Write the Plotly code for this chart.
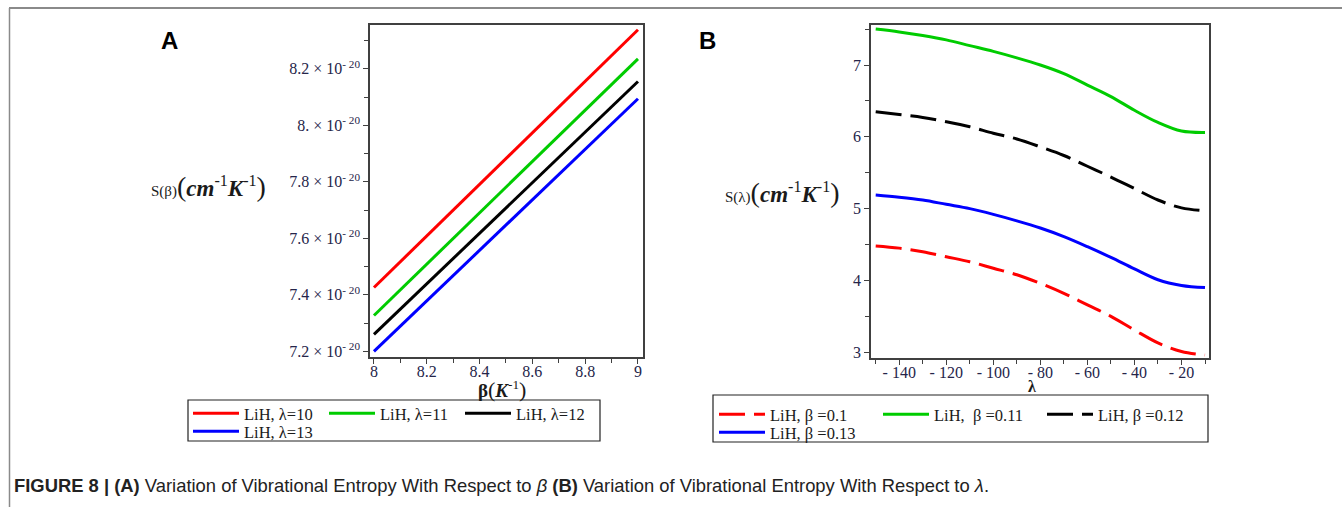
import plotly.graph_objects as go

# ---------------- Panel A data (S vs beta) ----------------
beta_x = [8.0, 9.0]
S_lam10 = [7.426e-20, 8.338e-20]
S_lam11 = [7.327e-20, 8.235e-20]
S_lam12 = [7.260e-20, 8.155e-20]
S_lam13 = [7.200e-20, 8.094e-20]
A_names = ["LiH, λ=10", "LiH, λ=11", "LiH, λ=12", "LiH, λ=13"]
A_colors = ["#ff0000", "#00cc00", "#000000", "#0000ff"]
A_ytickvals = [7.2e-20, 7.4e-20, 7.6e-20, 7.8e-20, 8.0e-20, 8.2e-20]
A_yticktext = ["7.2 × 10<sup>- 20</sup>", "7.4 × 10<sup>- 20</sup>", "7.6 × 10<sup>- 20</sup>",
               "7.8 × 10<sup>- 20</sup>", "8. × 10<sup>- 20</sup>", "8.2 × 10<sup>- 20</sup>"]
A_xtickvals = [8, 8.2, 8.4, 8.6, 8.8, 9]
A_xticktext = ["8", "8.2", "8.4", "8.6", "8.8", "9"]

# ---------------- Panel B data (S vs lambda) ----------------
lam_x = [-150, -140, -130, -120, -110, -100, -90, -80, -70, -60, -50, -40, -30, -20, -10]
S_b010 = [4.48, 4.45, 4.40, 4.33, 4.26, 4.17, 4.08, 3.96, 3.82, 3.66, 3.50, 3.31, 3.13, 3.01, 2.96]
S_b011 = [7.50, 7.46, 7.41, 7.35, 7.27, 7.19, 7.10, 7.00, 6.88, 6.72, 6.56, 6.37, 6.20, 6.08, 6.06]
S_b012 = [6.35, 6.31, 6.27, 6.21, 6.14, 6.05, 5.97, 5.86, 5.74, 5.59, 5.44, 5.28, 5.12, 5.01, 4.97]
S_b013 = [5.19, 5.16, 5.12, 5.06, 5.00, 4.92, 4.83, 4.73, 4.61, 4.47, 4.32, 4.16, 4.01, 3.93, 3.90]
B_names = ["LiH, β =0.1", "LiH,  β =0.11", "LiH, β =0.12", "LiH, β =0.13"]
B_colors = ["#ff0000", "#00cc00", "#000000", "#0000ff"]
B_dash = ["26px,9px", "solid", "26px,9px", "solid"]
B_xtickvals = [-140, -120, -100, -80, -60, -40, -20]
B_xticktext = ["- 140", "- 120", "- 100", "- 80", "- 60", "- 40", "- 20"]
B_ytickvals = [3, 4, 5, 6, 7]

W, H = 1342, 507
serif = "Liberation Serif, Times New Roman, serif"
tickcol = "#25254a"

fig = go.Figure()

A_leg = ["legend", "legend", "legend", "legend3"]
for ys, name, col, lg in zip([S_lam10, S_lam11, S_lam12, S_lam13], A_names, A_colors, A_leg):
    fig.add_trace(go.Scatter(x=beta_x, y=ys, mode="lines", name=name,
                             line=dict(color=col, width=3), xaxis="x", yaxis="y",
                             legend=lg))

B_leg = ["legend2", "legend2", "legend2", "legend4"]
for ys, name, col, d, lg in zip([S_b010, S_b011, S_b012, S_b013], B_names, B_colors, B_dash, B_leg):
    fig.add_trace(go.Scatter(x=lam_x, y=ys, mode="lines", name=name,
                             line=dict(color=col, width=3, dash=d, shape="spline", smoothing=1.0),
                             xaxis="x2", yaxis="y2", legend=lg))

def px_x(p):
    return p / W

def px_y(p):
    return 1 - p / H

axis_common = dict(showline=True, linecolor="#404040", linewidth=1.5, mirror=True,
                   showgrid=False, zeroline=False, ticks="outside", ticklen=5,
                   tickcolor="#404040", tickwidth=1,
                   tickfont=dict(family=serif, size=16, color=tickcol))

def leg(x, y, ew):
    return dict(x=px_x(x), y=px_y(y), xanchor="left", yanchor="top",
                orientation="h", borderwidth=0, bgcolor="rgba(0,0,0,0)",
                font=dict(family=serif, size=16.5, color="#1a1a1a"),
                entrywidth=ew, entrywidthmode="pixels", tracegroupgap=0,
                itemwidth=46)

fig.update_layout(
    width=W, height=H, margin=dict(l=0, r=0, t=0, b=0, autoexpand=False),
    paper_bgcolor="white", plot_bgcolor="white",
    xaxis=dict(domain=[px_x(370), px_x(643)], range=[7.985, 9.019], anchor="y",
               tickmode="array", tickvals=A_xtickvals, ticktext=A_xticktext,
               ticklabelstandoff=-6,
               minor=dict(ticks="outside", ticklen=4, tick0=8.1, dtick=0.2, tickcolor="#404040"),
               **axis_common),
    yaxis=dict(domain=[px_y(357), px_y(25)], range=[7.18e-20, 8.355e-20], anchor="x",
               tickmode="array", tickvals=A_ytickvals, ticktext=A_yticktext,
               minor=dict(ticks="outside", ticklen=4, tick0=7.3e-20, dtick=0.2e-20, tickcolor="#404040"),
               **axis_common),
    xaxis2=dict(domain=[px_x(871), px_x(1209)], range=[-152, -8.3], anchor="y2",
                tickmode="array", tickvals=B_xtickvals, ticktext=B_xticktext,
                ticklabelstandoff=-6,
                minor=dict(ticks="outside", ticklen=4, tick0=-150, dtick=20, tickcolor="#404040"),
                **axis_common),
    yaxis2=dict(domain=[px_y(358), px_y(25)], range=[2.92, 7.557], anchor="x2",
                tickmode="array", tickvals=B_ytickvals,
                minor=dict(ticks="outside", ticklen=4, tick0=3.5, dtick=1, tickcolor="#404040"),
                **axis_common),
    legend=leg(188, 396, 75),
    legend3=leg(188, 414, 75),
    legend2=leg(714, 397, 103),
    legend4=leg(714, 415, 103),
    showlegend=True,
)

def note(text, x, y, size, family=serif, color="#1a1a1a", xanchor="center"):
    return dict(text=text, x=px_x(x), y=px_y(y), xref="paper", yref="paper",
                xanchor=xanchor, yanchor="middle", showarrow=False,
                font=dict(family=family, size=size, color=color))

ann = []
ann.append(note("<b>A</b>", 169, 41, 24, family="Liberation Sans, Arial", color="black"))
ann.append(note("<b>B</b>", 707, 41, 24, family="Liberation Sans, Arial", color="black"))
ytitle_tpl = ("<span style='font-size:15px'>S({})</span><span style='font-size:28px'>(</span>"
              "<b><i>cm</i></b><sup>-1</sup><b><i>K</i></b><sup>-1</sup><span style='font-size:28px'>)</span>")
ann.append(note(ytitle_tpl.format("β"), 208, 186, 23))
ann.append(note(ytitle_tpl.format("λ"), 782, 193, 23))
ann.append(note("<b>β</b><span style='font-size:22px'>(</span><b><i>K</i></b><sup>-1</sup><span style='font-size:22px'>)</span>",
                502, 389, 19))
ann.append(note("<b>λ</b>", 1032, 386, 16))
ann.append(note("<b>FIGURE 8 | (A)</b> Variation of Vibrational Entropy With Respect to <i>β</i> <b>(B)</b> Variation of Vibrational Entropy With Respect to <i>λ</i>.",
                12, 485, 18.4, family="Liberation Sans, Arial", color="#222222", xanchor="left"))
fig.update_layout(annotations=ann)

# Page frame lines and legend boxes (decoration)
fig.add_shape(type="line", xref="paper", yref="paper", x0=px_x(9), x1=1, y0=px_y(8), y1=px_y(8),
              line=dict(color="#8a8a8a", width=2))
fig.add_shape(type="line", xref="paper", yref="paper", x0=px_x(9.5), x1=px_x(9.5), y0=px_y(8), y1=0,
              line=dict(color="#8a8a8a", width=1.5))
fig.add_shape(type="rect", xref="paper", yref="paper", x0=px_x(188), x1=px_x(600),
              y0=px_y(441), y1=px_y(400), line=dict(color="#222222", width=1.2))
fig.add_shape(type="rect", xref="paper", yref="paper", x0=px_x(713), x1=px_x(1208),
              y0=px_y(442), y1=px_y(395), line=dict(color="#222222", width=1.2))

fig.write_html("out.html")
